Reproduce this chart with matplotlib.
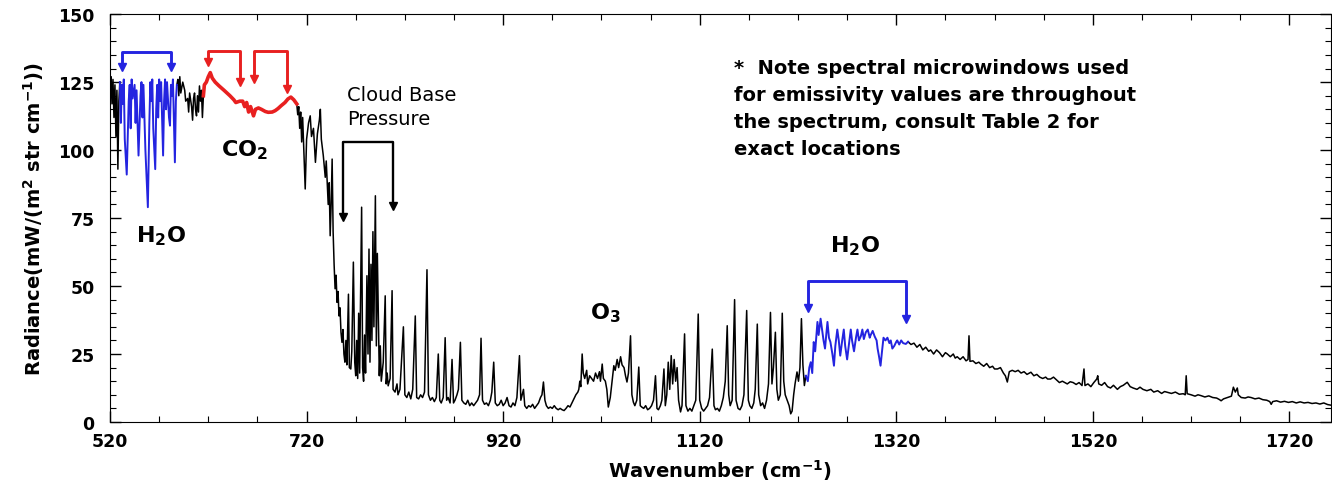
import numpy as np
import matplotlib
matplotlib.use("Agg")
import matplotlib.pyplot as plt
from matplotlib.ticker import FixedLocator, MultipleLocator

plt.rcParams['font.family'] = ['DejaVu Sans']
plt.rcParams['mathtext.default'] = 'bf'

# spectrum (wavenumber cm-1, radiance)
black_a_wn = [520, 521, 522, 523, 524, 525, 526, 527, 528, 529, 530]
black_a_rad = [122, 127, 117, 126, 112, 124, 105, 122, 93, 118, 125]

h2o1_wn = [530, 531, 532, 533, 534, 535, 537, 539, 540, 541,
           542, 543, 545, 546, 547, 549, 551, 552, 553, 554,
           556, 558.5, 560, 561, 562, 563, 564, 566, 567, 568,
           569, 570, 571, 572, 574, 575, 576, 577, 578, 580,
           581, 582, 583, 584, 586, 587, 588]
h2o1_rad = [125, 110, 124, 117, 126, 104, 91, 118, 124, 108,
            126, 119, 124, 110, 122, 98, 120, 125, 112, 124,
            100, 79, 110, 125, 118, 126, 108, 93, 115, 124,
            112, 126, 118, 125, 98, 118, 126, 115, 125, 112,
            109, 124, 120, 126, 95.5, 118, 124]

black_b_wn = [588, 589, 590, 591, 592, 594, 596, 597, 599, 600,
              601, 603, 604, 605, 606, 607, 608, 609, 610, 611,
              612, 613, 614, 615]
black_b_rad = [124, 126, 120, 127, 121, 125, 122, 118, 119, 114,
               121, 116, 111, 119, 121, 115, 112.6, 120, 114, 123.6,
               118, 122, 112, 120]

co2_wn = [615, 616, 618, 620, 622, 624, 627, 631, 636, 642,
          646, 648, 652, 655, 657, 659, 661, 663, 666, 668,
          671, 674, 678, 681, 685, 688, 691, 694, 698, 701,
          704, 707, 710]
co2_rad = [120, 124, 125, 127, 128.5, 126.5, 125, 123.6, 122, 120,
           118.5, 117.5, 118, 118, 116, 117.5, 114, 116, 112.6, 115,
           115.5, 115, 114.2, 113.9, 114, 114.5, 115.3, 116.3, 117.5, 118.8,
           119.5, 118.5, 117]

black_c_wn = [
    710, 711, 712, 713, 714, 715, 716, 718.6, 720, 722,
    723.7, 725, 727, 729, 731, 733, 734, 735, 737, 739,
    740, 742, 743, 744, 745, 746, 747, 748, 749, 750,
    751, 752, 753, 754, 755, 756, 757, 758, 759, 760,
    761, 762.6, 763.5, 765, 766, 767.6, 769, 770, 771, 772,
    773, 774, 776, 777, 778, 779, 780, 781.4, 782.5, 783.5,
    784.5, 785.5, 786.5, 787.5, 788.5, 790, 791, 792, 793, 794,
    795, 796, 798, 800, 801, 802, 803, 805, 807, 808,
    810, 812, 813, 815, 818.5, 820, 822, 824, 826, 828,
    830.6, 832, 834, 836, 838, 840, 842.5, 844, 846, 848,
    850, 852, 854, 855.5, 857, 859, 861, 862.5, 864, 866,
    868, 869.5, 871, 873, 874.5, 876.5, 878, 880, 882, 884,
    886, 888, 890, 892, 894, 896, 897.5, 899, 901, 903,
    905, 907, 908.5, 910.4, 912, 914, 916, 918, 920, 922,
    924, 926, 928, 930, 932, 934, 936.6, 938, 940.7, 942,
    944, 946, 948, 950, 952, 954, 956, 958, 959.5, 961,
    962.5, 964, 966, 968, 970, 972, 974, 976, 978, 980,
    982, 984, 986, 988, 990, 992, 994, 996, 997, 998,
    999, 1000.4, 1001.5, 1003, 1005, 1006, 1008, 1010, 1012, 1014,
    1016, 1018, 1019, 1020.8, 1022, 1024, 1025.5, 1027, 1029, 1030.5,
    1032.6, 1034, 1036, 1037.5, 1039.5, 1041, 1043, 1044.5, 1046, 1047.5,
    1049.6, 1051, 1052.5, 1054, 1056, 1058, 1059.5, 1061, 1063, 1065,
    1067, 1069, 1071, 1073, 1075, 1076.5, 1078, 1080, 1081.5, 1083.6,
    1085, 1086.5, 1088, 1089.5, 1091, 1092.5, 1094, 1095.5, 1097, 1098.5,
    1100.5, 1102, 1104.6, 1106, 1108, 1110, 1112, 1114, 1116, 1118.5,
    1120, 1122, 1124, 1126, 1128, 1130, 1132.8, 1134.5, 1136, 1138,
    1140, 1142, 1144, 1146, 1148, 1149.5, 1151, 1153, 1155.5, 1157,
    1159, 1161, 1163, 1165, 1167.8, 1169.5, 1171, 1173, 1175, 1176.5,
    1178.6, 1180, 1182, 1184, 1186, 1188, 1190, 1192, 1193.5, 1195,
    1197, 1198.5, 1200, 1202, 1204, 1205.5, 1207, 1209, 1211, 1212.6,
    1214, 1215.6, 1217, 1219, 1220.5, 1222, 1223.5, 1225, 1226.5, 1228]
black_c_rad = [
    117, 113, 116, 108, 114, 103, 112, 85.7, 104, 110,
    112.6, 105, 108, 95.5, 106, 111, 115, 104, 98, 90,
    96, 80, 88, 68.5, 80, 96.7, 70, 58, 49, 54,
    44, 48, 39, 42, 33, 29.3, 34, 25, 22, 30,
    21, 47, 20, 19.5, 26, 58.8, 22, 17, 30, 16,
    40, 18, 79, 20, 15, 32, 18, 53.8, 25, 63.6,
    22, 58, 30, 70, 35, 83.2, 28, 62, 40, 17,
    28, 15, 22, 46.4, 14, 18, 13.3, 16, 48.3, 12,
    11, 14, 10, 12, 35, 10, 9, 11, 8.5, 12,
    39, 9, 8.5, 10, 9, 11, 56, 10, 8, 9,
    7.5, 9, 25, 8, 7, 9, 31, 8, 9, 7,
    23, 7, 8, 10, 12, 29.3, 8, 7, 6.5, 8,
    6, 7, 6, 7, 8, 10, 30.8, 8, 6.5, 7,
    6, 8, 11, 22, 7, 6, 6.5, 8, 6, 7,
    9, 6, 5.5, 7, 6, 9, 24.4, 8, 12, 6,
    5, 6, 5.5, 6.5, 5, 6, 7, 9, 10, 14.7,
    8, 6, 5, 5.5, 5, 6, 5, 4.5, 5, 4.5,
    4.2, 5, 6, 5.5, 7, 8.5, 10, 11, 12, 15,
    13, 25, 18, 16, 19, 14, 17, 16, 15, 18,
    16, 18.5, 15, 21.3, 16, 15, 12, 5.5, 9, 14,
    20.7, 19, 23, 20, 24, 21, 20, 17, 14.7, 18,
    31.7, 10, 7.3, 6, 8, 20.2, 6, 5.5, 5, 6,
    4.5, 5, 6, 8, 17, 5, 4.5, 6, 8, 19.5,
    6, 10, 22, 12, 24.4, 14, 23, 15, 20, 8,
    3.7, 6, 32.4, 6, 4, 5, 4, 6, 8, 39.7,
    8, 5, 4, 5, 6, 9, 26.8, 6, 4.5, 5,
    4, 6, 9, 15, 35.4, 10, 6, 8, 45, 8,
    5, 4.5, 6, 10, 41, 8, 6, 5, 7, 12,
    36, 10, 6, 7, 5, 8, 14, 40.3, 14, 20,
    33, 12, 8, 10, 40, 15, 10, 8, 6, 3,
    4, 10, 14, 18.4, 15, 20, 38, 21, 13.4, 17]

h2o2_wn = [1228, 1230, 1231.5, 1233, 1234.5, 1236, 1237.5, 1239.8, 1241, 1243,
           1244.5, 1246, 1247.5, 1249, 1250, 1251.5, 1253, 1255, 1256.6, 1258,
           1260, 1261.5, 1263, 1265, 1266.6, 1268, 1270, 1272, 1273.7, 1275,
           1277, 1279, 1280.5, 1282, 1284, 1285.5, 1287, 1289, 1291, 1293,
           1294, 1296, 1298, 1300, 1301, 1302.5, 1304, 1305.5, 1307, 1309,
           1311, 1313, 1314.4, 1316, 1318, 1320, 1321, 1323, 1325, 1327,
           1329.7, 1332]
h2o2_rad = [17, 15, 20, 22, 18, 29.4, 26, 36.8, 32, 38,
            34, 30, 27, 33, 36.8, 31, 29.4, 25, 20.7, 28,
            34, 30, 24.4, 30, 34, 28, 23, 29, 34, 30,
            26, 31, 34, 30, 31.6, 34, 30.5, 33, 34, 31,
            32, 33.5, 31.5, 30, 27, 24, 20.7, 26, 31, 30,
            31, 29, 30, 27, 28, 29.5, 30, 28.5, 30, 29,
            28.7, 29.5]

black_d_wn = [1332, 1335, 1338, 1341, 1344, 1347, 1350, 1353, 1355, 1358,
              1361, 1364, 1367, 1370, 1372, 1375, 1378, 1380, 1382, 1385,
              1388, 1391, 1393, 1394, 1395, 1398, 1401, 1404, 1406, 1409,
              1412, 1415, 1418, 1420, 1423, 1426, 1429, 1431, 1433, 1435,
              1438, 1441, 1444, 1447, 1450, 1453, 1457, 1460, 1463, 1466,
              1469, 1472, 1474, 1477, 1480, 1483, 1486, 1489, 1491, 1494,
              1497, 1500, 1503, 1506, 1509, 1511, 1512, 1515, 1518, 1521,
              1524, 1525, 1526, 1529, 1532, 1535, 1538, 1541, 1545, 1548,
              1551, 1555, 1558, 1561, 1565, 1568, 1571, 1575, 1579, 1582,
              1586, 1590, 1593, 1596, 1600, 1604, 1608, 1612, 1614, 1615,
              1616, 1620, 1624, 1627, 1630, 1634, 1638, 1642, 1646, 1649,
              1650.5, 1653, 1657, 1661, 1663, 1665, 1667, 1668, 1671, 1675,
              1678, 1681, 1685, 1689, 1693, 1697, 1700, 1701.5, 1703, 1707,
              1711, 1715, 1719, 1723, 1727, 1731, 1735, 1739, 1743, 1747,
              1751, 1755, 1759, 1762]
black_d_rad = [29.5, 28.5, 29, 27.5, 28.5, 26.5, 27.5, 26, 26.5, 25,
               26.5, 25.5, 24, 25.5, 25, 24, 25, 23.5, 24, 23,
               24, 22.5, 23, 31.7, 22.3, 22.5, 21.5, 22, 21.3, 20.5,
               21.5, 20, 20.5, 19.5, 19.5, 20, 18, 17, 14.7, 18.5,
               19, 18.5, 19, 18, 18.5, 17.5, 18.3, 17, 17.5, 16.5,
               16, 16.5, 15.8, 15.8, 16.5, 15.5, 14.5, 15, 14.6, 14,
               14.8, 14.5, 13.8, 14.5, 13.4, 19.5, 13.4, 14, 13, 14.5,
               15.8, 17, 14, 13.5, 14.5, 13, 12.5, 13.5, 12, 13,
               13.5, 14.6, 13, 12.5, 12, 12.8, 12, 11.5, 12, 11,
               11.5, 10.5, 11.2, 10.9, 10.5, 11, 10.2, 10.4, 10, 17,
               10.4, 10, 9.5, 10, 9.7, 9.2, 9.6, 9, 8.8, 8.2,
               7.8, 8.5, 9, 9.5, 12.8, 11, 12.5, 10, 9, 8.8,
               9.2, 9, 8.5, 8.8, 8.2, 8, 7.5, 6.5, 7.5, 7.8,
               7.3, 7.6, 7.2, 7.5, 7, 7.4, 7, 7.2, 6.8, 7,
               6.6, 7, 6.4, 6.2]

# brackets: left wn, right wn, top, left tip, right tip, colour
BLUE = '#2424e0'
RED = '#e82020'
brackets = [
    (532, 582, 136, 130.5, 130.5, BLUE),
    (620, 652.6, 136.4, 132.4, 125, RED),
    (666.8, 700.4, 136.4, 126, 122.4, RED),
    (757, 808, 103, 75.4, 79.4, 'black'),
    (1230, 1329.7, 52, 42, 38, BLUE),
]

fig = plt.figure(figsize=(13.32, 4.89), dpi=100)
ax = fig.add_axes([0.0826, 0.135, 0.9164, 0.834])

ax.plot(black_a_wn, black_a_rad, color='black', lw=1.1)
ax.plot(black_b_wn, black_b_rad, color='black', lw=1.1)
ax.plot(black_c_wn, black_c_rad, color='black', lw=1.1)
ax.plot(black_d_wn, black_d_rad, color='black', lw=1.1)
ax.plot(h2o1_wn, h2o1_rad, color=BLUE, lw=1.4)
ax.plot(h2o2_wn, h2o2_rad, color=BLUE, lw=1.4)
ax.plot(co2_wn, co2_rad, color=RED, lw=2.6)

for x0, x1, top, t0, t1, c in brackets:
    lw = 1.7 if c == 'black' else 2.1
    ax.plot([x0, x0, x1, x1], [t0, top, top, t1], color=c, lw=lw)
    ax.plot([x0, x1], [t0, t1], 'v', color=c, ms=6)

ax.text(572, 68.8, 'H$_2$O', fontsize=16, fontweight='bold', ha='center', va='center')
ax.text(656.5, 100.4, 'CO$_2$', fontsize=16, fontweight='bold', ha='center', va='center')
ax.text(1024, 40.5, 'O$_3$', fontsize=16, fontweight='bold', ha='center', va='center')
ax.text(1278, 65, 'H$_2$O', fontsize=16, fontweight='bold', ha='center', va='center')
ax.text(761, 116, 'Cloud Base\nPressure', fontsize=14, ha='left', va='center',
        linespacing=1.35)
ax.text(1154.5, 134, '*  Note spectral microwindows used\n'
        'for emissivity values are throughout\n'
        'the spectrum, consult Table 2 for\n'
        'exact locations', fontsize=14, fontweight='bold', ha='left', va='top',
        linespacing=1.55)

ax.set_xlim(520, 1762)
ax.set_ylim(0, 150)
ax.xaxis.set_major_locator(FixedLocator(np.arange(520, 1721, 200)))
ax.xaxis.set_minor_locator(FixedLocator(np.arange(520, 1762, 50)))
ax.yaxis.set_major_locator(MultipleLocator(25))
ax.yaxis.set_minor_locator(MultipleLocator(5))
ax.tick_params(which='both', direction='in', top=True, right=True)
ax.tick_params(which='major', length=8, width=1)
ax.tick_params(which='minor', length=4, width=0.8)
ax.tick_params(axis='y', pad=11, labelsize=12.5)
ax.tick_params(axis='x', pad=7, labelsize=12.5)
for lab in ax.get_xticklabels() + ax.get_yticklabels():
    lab.set_fontweight('bold')

ax.set_xlabel('Wavenumber (cm$^{-1}$)', fontsize=14, fontweight='bold', labelpad=5)
ax.set_ylabel('Radiance(mW/(m$^2$ str cm$^{-1}$))', fontsize=14, fontweight='bold',
              labelpad=9)

fig.savefig('out.png', dpi=100)
